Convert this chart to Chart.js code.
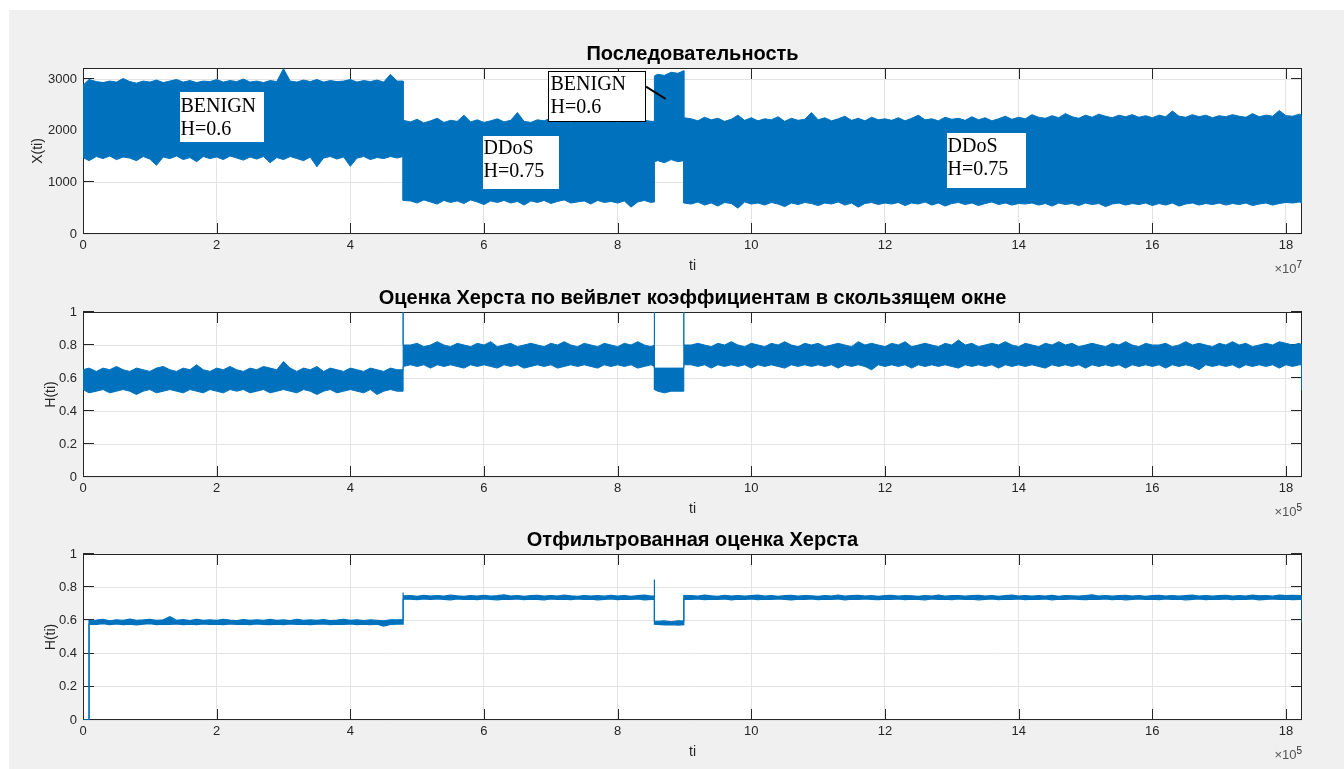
<!DOCTYPE html>
<html>
<head>
<meta charset="utf-8">
<script src="https://cdn.jsdelivr.net/npm/chart.js@4.4.1/dist/chart.umd.min.js"></script>
<style>
  html, body { margin: 0; padding: 0; background: #ffffff; }
  body { width: 1344px; height: 769px; position: relative; overflow: hidden; }
  #fig { position: absolute; left: 9px; top: 10px; right: 0; bottom: 0; background: #f0f0f0; }
  canvas { position: absolute; left: 0; }
</style>
</head>
<body>
<div id="fig"></div>
<canvas id="c1" width="1344" height="280" style="top:0px"></canvas>
<canvas id="c2" width="1344" height="245" style="top:280px"></canvas>
<canvas id="c3" width="1344" height="244" style="top:525px"></canvas>
<script>
// ---------------- DATA ----------------
// positions along ti, in axis units (×10^7 for the sequence, ×10^5 for the Hurst plots)
const tiGrid = [
  0, 0.09, 0.09, 0.2, 0.3, 0.4, 0.5, 0.6, 0.7, 0.8,
  0.9, 1.0, 1.1, 1.2, 1.3, 1.4, 1.5, 1.6, 1.7, 1.8,
  1.9, 2.0, 2.1, 2.2, 2.3, 2.4, 2.5, 2.6, 2.7, 2.8,
  2.9, 3.0, 3.1, 3.2, 3.3, 3.4, 3.5, 3.6, 3.7, 3.8,
  3.9, 4.0, 4.1, 4.2, 4.3, 4.4, 4.5, 4.6, 4.7,
  4.79, 4.79, 4.79,
  4.9, 5.0, 5.1, 5.2, 5.3, 5.4, 5.5, 5.6, 5.7, 5.8,
  5.9, 6.0, 6.1, 6.2, 6.3, 6.4, 6.5, 6.6, 6.7, 6.8,
  6.9, 7.0, 7.1, 7.2, 7.3, 7.4, 7.5, 7.6, 7.7, 7.8,
  7.9, 8.0, 8.1, 8.2, 8.3, 8.4, 8.5,
  8.55, 8.55, 8.55,
  8.6, 8.7, 8.8, 8.9,
  8.99, 8.99, 8.99,
  9.1, 9.2, 9.3, 9.4, 9.5, 9.6, 9.7, 9.8, 9.9, 10.0,
  10.1, 10.2, 10.3, 10.4, 10.5, 10.6, 10.7, 10.8, 10.9, 11.0,
  11.1, 11.2, 11.3, 11.4, 11.5, 11.6, 11.7, 11.8, 11.9, 12.0,
  12.1, 12.2, 12.3, 12.4, 12.5, 12.6, 12.7, 12.8, 12.9, 13.0,
  13.1, 13.2, 13.3, 13.4, 13.5, 13.6, 13.7, 13.8, 13.9, 14.0,
  14.1, 14.2, 14.3, 14.4, 14.5, 14.6, 14.7, 14.8, 14.9, 15.0,
  15.1, 15.2, 15.3, 15.4, 15.5, 15.6, 15.7, 15.8, 15.9, 16.0,
  16.1, 16.2, 16.3, 16.4, 16.5, 16.6, 16.7, 16.8, 16.9, 17.0,
  17.1, 17.2, 17.3, 17.4, 17.5, 17.6, 17.7, 17.8, 17.9, 18.0,
  18.1, 18.2,
  18.24, 18.24
];

// Sequence X(ti): upper and lower edge of the noise band
const seqHigh = [
  2880, 2990, 2990, 2950, 2930, 2960, 2940, 3010, 2950, 2920,
  2960, 2940, 2980, 2930, 2960, 2990, 2940, 2970, 2930, 2960,
  2950, 2990, 2940, 2970, 2950, 3000, 2940, 2960, 2930, 2970,
  2950, 3200, 2960, 2940, 2980, 2950, 2990, 2940, 2970, 2950,
  2960, 2990, 2940, 2970, 2950, 2980, 2940, 3090, 2960,
  2960, 2200, 2200,
  2170, 2220, 2150, 2190, 2240, 2160, 2200, 2180, 2300, 2170,
  2210, 2160, 2190, 2230, 2170, 2200, 2350, 2180, 2160, 2210,
  2190, 2240, 2170, 2200, 2160, 2220, 2180, 2190, 2250, 2170,
  2200, 2160, 2190, 2220, 2170, 2200, 2180,
  2180, 3060, 3060,
  3090, 3070, 3130, 3110,
  3160, 2250, 2250,
  2230, 2190, 2260, 2210, 2240, 2180, 2220, 2300, 2200, 2250,
  2190, 2230, 2210, 2270, 2180, 2240, 2200, 2220, 2350, 2210,
  2250, 2190, 2230, 2280, 2200, 2240, 2190, 2260, 2210, 2230,
  2200, 2250, 2190, 2240, 2300, 2210, 2230, 2190, 2260, 2220,
  2240, 2200, 2270, 2210, 2250, 2190, 2230, 2280, 2220, 2260,
  2230, 2310, 2260, 2240, 2290, 2250, 2330, 2270, 2240, 2300,
  2260, 2320, 2280, 2250, 2300, 2270, 2310, 2260, 2290, 2250,
  2300, 2270, 2380, 2280, 2260, 2310, 2270, 2300, 2250, 2290,
  2270, 2310, 2280, 2260, 2330, 2270, 2300, 2280, 2390, 2290,
  2280, 2320,
  2300, 2300
];
const seqLow = [
  1480, 1420, 1420, 1500, 1460, 1510, 1440, 1490, 1470, 1420,
  1500, 1450, 1330, 1490, 1460, 1510, 1440, 1480, 1400, 1500,
  1460, 1490, 1440, 1510, 1470, 1430, 1490, 1450, 1500, 1380,
  1480, 1440, 1500, 1460, 1420, 1490, 1300, 1470, 1500, 1450,
  1490, 1310, 1470, 1500, 1440, 1480, 1460, 1500, 1470,
  1500, 650, 650,
  640, 600, 660, 620, 580, 650, 610, 640, 590, 660,
  620, 570, 640, 610, 650, 600, 630, 560, 640, 610,
  650, 590, 630, 660, 600, 620, 640, 580, 650, 610,
  630, 600, 640, 520, 620, 650, 610,
  620, 1400, 1400,
  1420, 1380, 1440, 1400,
  1420, 600, 600,
  580, 620, 560, 600, 540, 610, 590, 500, 620, 580,
  600, 560, 610, 580, 530, 600, 570, 610, 590, 550,
  600, 580, 620, 560, 600, 520, 590, 610, 570, 600,
  580, 610, 550, 600, 580, 620, 560, 600, 540, 590,
  610, 570, 600, 550, 590, 620, 570, 600, 560, 590,
  580, 600, 560, 590, 540, 600, 570, 590, 550, 600,
  570, 590, 530, 580, 600, 560, 590, 570, 600, 550,
  590, 560, 600, 540, 580, 600, 560, 590, 570, 600,
  560, 590, 570, 600, 550, 580, 600, 560, 590, 610,
  600, 620,
  600, 600
];

// Hurst estimate from wavelet coefficients (sliding window)
const waveHigh = [
  0.65, 0.66, 0.66, 0.64, 0.66, 0.65, 0.67, 0.65, 0.64, 0.66,
  0.65, 0.64, 0.66, 0.67, 0.65, 0.64, 0.66, 0.65, 0.68, 0.65,
  0.64, 0.66, 0.65, 0.67, 0.65, 0.64, 0.66, 0.65, 0.67, 0.66,
  0.65, 0.70, 0.66, 0.64, 0.66, 0.65, 0.67, 0.64, 0.66, 0.65,
  0.64, 0.66, 0.65, 0.64, 0.66, 0.65, 0.64, 0.66, 0.65,
  0.65, 1.00, 0.80,
  0.80, 0.81, 0.79, 0.80, 0.82, 0.80, 0.79, 0.81, 0.80, 0.79,
  0.81, 0.80, 0.82, 0.79, 0.80, 0.81, 0.79, 0.80, 0.81, 0.80,
  0.79, 0.81, 0.80, 0.82, 0.80, 0.79, 0.81, 0.80, 0.79, 0.81,
  0.80, 0.79, 0.81, 0.80, 0.82, 0.80, 0.79,
  0.80, 1.00, 0.66,
  0.66, 0.66, 0.66, 0.66,
  0.66, 1.00, 0.80,
  0.80, 0.81, 0.80, 0.79, 0.81, 0.80, 0.82, 0.80, 0.79, 0.81,
  0.80, 0.79, 0.81, 0.80, 0.82, 0.80, 0.79, 0.81, 0.80, 0.81,
  0.79, 0.80, 0.81, 0.80, 0.79, 0.82, 0.80, 0.81, 0.80, 0.79,
  0.81, 0.80, 0.82, 0.79, 0.80, 0.81, 0.80, 0.79, 0.81, 0.80,
  0.83, 0.80, 0.81, 0.79, 0.80, 0.81, 0.80, 0.82, 0.80, 0.79,
  0.81, 0.80, 0.79, 0.81, 0.80, 0.82, 0.80, 0.81, 0.79, 0.80,
  0.81, 0.80, 0.79, 0.81, 0.80, 0.82, 0.80, 0.79, 0.81, 0.80,
  0.80, 0.81, 0.79, 0.80, 0.82, 0.80, 0.81, 0.80, 0.79, 0.81,
  0.80, 0.82, 0.80, 0.81, 0.79, 0.80, 0.81, 0.80, 0.82, 0.81,
  0.80, 0.81,
  0.80, 0.80
];
const waveLow = [
  0.53, 0.51, 0.51, 0.52, 0.53, 0.51, 0.52, 0.53, 0.52, 0.50,
  0.52, 0.53, 0.51, 0.52, 0.53, 0.52, 0.51, 0.53, 0.52, 0.51,
  0.53, 0.52, 0.51, 0.53, 0.52, 0.53, 0.51, 0.52, 0.53, 0.51,
  0.52, 0.53, 0.52, 0.51, 0.53, 0.52, 0.50, 0.52, 0.53, 0.51,
  0.52, 0.53, 0.52, 0.51, 0.53, 0.50, 0.52, 0.53, 0.52,
  0.52, 0.52, 0.67,
  0.68, 0.67, 0.68, 0.66, 0.68, 0.67, 0.68, 0.67, 0.66, 0.68,
  0.67, 0.68, 0.67, 0.66, 0.68, 0.67, 0.68, 0.66, 0.67, 0.68,
  0.67, 0.68, 0.66, 0.67, 0.68, 0.67, 0.68, 0.67, 0.66, 0.68,
  0.67, 0.68, 0.67, 0.68, 0.66, 0.67, 0.68,
  0.67, 0.53, 0.53,
  0.52, 0.51, 0.52, 0.52,
  0.52, 0.52, 0.68,
  0.68, 0.67, 0.68, 0.66, 0.68, 0.67, 0.68, 0.67, 0.68, 0.66,
  0.68, 0.67, 0.68, 0.67, 0.66, 0.68, 0.67, 0.68, 0.67, 0.68,
  0.67, 0.68, 0.66, 0.68, 0.67, 0.68, 0.67, 0.65, 0.68, 0.67,
  0.68, 0.67, 0.68, 0.66, 0.68, 0.67, 0.68, 0.67, 0.68, 0.67,
  0.66, 0.68, 0.67, 0.68, 0.67, 0.68, 0.66, 0.68, 0.67, 0.68,
  0.67, 0.68, 0.67, 0.66, 0.68, 0.67, 0.68, 0.67, 0.68, 0.66,
  0.68, 0.67, 0.68, 0.67, 0.68, 0.66, 0.68, 0.67, 0.68, 0.67,
  0.68, 0.66, 0.68, 0.67, 0.68, 0.67, 0.65, 0.68, 0.67, 0.68,
  0.67, 0.68, 0.66, 0.68, 0.67, 0.68, 0.67, 0.68, 0.66, 0.68,
  0.67, 0.68,
  0.68, 0.525
];

// Filtered Hurst estimate
const filtHigh = [
  0, 0, 0.600, 0.602, 0.606, 0.598, 0.604, 0.600, 0.608, 0.601,
  0.603, 0.606, 0.600, 0.604, 0.622, 0.601, 0.605, 0.599, 0.607, 0.601,
  0.603, 0.600, 0.607, 0.602, 0.599, 0.605, 0.600, 0.604, 0.601, 0.606,
  0.600, 0.604, 0.599, 0.607, 0.601, 0.603, 0.600, 0.605, 0.599, 0.602,
  0.606, 0.600, 0.604, 0.599, 0.603, 0.600, 0.597, 0.604, 0.603,
  0.605, 0.768, 0.748,
  0.749, 0.745, 0.751, 0.747, 0.750, 0.746, 0.752, 0.748, 0.745, 0.750,
  0.747, 0.751, 0.746, 0.749, 0.754, 0.747, 0.750, 0.745, 0.749, 0.751,
  0.746, 0.750, 0.747, 0.752, 0.748, 0.745, 0.750, 0.747, 0.749, 0.746,
  0.751, 0.747, 0.750, 0.745, 0.749, 0.752, 0.747,
  0.748, 0.846, 0.595,
  0.594, 0.597, 0.592, 0.598,
  0.596, 0.750, 0.750,
  0.750, 0.746, 0.752, 0.748, 0.745, 0.751, 0.747, 0.750, 0.746, 0.749,
  0.752, 0.747, 0.750, 0.745, 0.749, 0.751, 0.746, 0.750, 0.748, 0.745,
  0.750, 0.747, 0.753, 0.746, 0.749, 0.751, 0.747, 0.750, 0.745, 0.749,
  0.751, 0.746, 0.750, 0.748, 0.745, 0.750, 0.747, 0.752, 0.746, 0.749,
  0.750, 0.746, 0.749, 0.751, 0.747, 0.750, 0.745, 0.749, 0.752, 0.747,
  0.750, 0.746, 0.749, 0.747, 0.751, 0.745, 0.750, 0.748, 0.746, 0.750,
  0.754, 0.747, 0.750, 0.746, 0.749, 0.751, 0.747, 0.750, 0.745, 0.749,
  0.751, 0.747, 0.750, 0.746, 0.749, 0.752, 0.747, 0.750, 0.746, 0.749,
  0.751, 0.746, 0.750, 0.747, 0.753, 0.748, 0.750, 0.746, 0.752, 0.749,
  0.751, 0.749,
  0.749, 0.749
];
const filtLow = [
  0, 0, 0.578, 0.576, 0.580, 0.574, 0.579, 0.575, 0.578, 0.573,
  0.577, 0.580, 0.575, 0.578, 0.576, 0.579, 0.574, 0.578, 0.575, 0.579,
  0.576, 0.578, 0.574, 0.579, 0.576, 0.578, 0.575, 0.579, 0.576, 0.574,
  0.578, 0.575, 0.579, 0.576, 0.578, 0.574, 0.577, 0.579, 0.575, 0.578,
  0.576, 0.579, 0.575, 0.577, 0.574, 0.578, 0.566, 0.576, 0.578,
  0.578, 0.578, 0.728,
  0.728, 0.725, 0.729, 0.726, 0.730, 0.727, 0.724, 0.729, 0.726, 0.728,
  0.725, 0.729, 0.727, 0.724, 0.728, 0.726, 0.729, 0.725, 0.728, 0.727,
  0.724, 0.729, 0.726, 0.728, 0.725, 0.729, 0.726, 0.728, 0.724, 0.727,
  0.729, 0.725, 0.728, 0.726, 0.729, 0.724, 0.727,
  0.727, 0.577, 0.577,
  0.576, 0.573, 0.575, 0.572,
  0.574, 0.574, 0.728,
  0.727, 0.729, 0.725, 0.728, 0.726, 0.729, 0.724, 0.728, 0.726, 0.729,
  0.725, 0.728, 0.726, 0.729, 0.727, 0.724, 0.728, 0.726, 0.729, 0.725,
  0.728, 0.726, 0.729, 0.724, 0.728, 0.726, 0.729, 0.727, 0.725, 0.728,
  0.726, 0.729, 0.725, 0.728, 0.727, 0.724, 0.729, 0.726, 0.728, 0.725,
  0.729, 0.726, 0.728, 0.724, 0.727, 0.729, 0.725, 0.728, 0.726, 0.729,
  0.725, 0.728, 0.726, 0.729, 0.724, 0.728, 0.726, 0.729, 0.727, 0.725,
  0.728, 0.726, 0.729, 0.725, 0.728, 0.724, 0.727, 0.729, 0.726, 0.728,
  0.725, 0.729, 0.726, 0.728, 0.724, 0.727, 0.729, 0.725, 0.728, 0.726,
  0.729, 0.725, 0.728, 0.726, 0.729, 0.724, 0.727, 0.729, 0.726, 0.728,
  0.725, 0.727,
  0.727, 0.585
];

const seqYTicks = [0, 1000, 2000, 3000];
const hurstYTicks = [0, 0.2, 0.4, 0.6, 0.8, 1];
const tiTickLabels = ['0', '2', '4', '6', '8', '10', '12', '14', '16', '18'];

// ---------------- RENDERING ----------------
const BLUE = '#0072BD';
const AXC = '#262626';
const SANS = '"Liberation Sans", Arial, Helvetica, sans-serif';
const SERIF = '"Liberation Serif", "Times New Roman", serif';

function points(ys, scale) { return tiGrid.map((t, i) => ({ x: t * scale, y: ys[i] })); }

const matlabAxes = {
  id: 'matlabAxes',
  beforeDraw(chart) {
    const { ctx, chartArea: a } = chart;
    ctx.save();
    ctx.fillStyle = '#ffffff';
    ctx.fillRect(a.left, a.top, a.right - a.left, a.bottom - a.top);
    ctx.restore();
  },
  beforeDatasetsDraw(chart) {
    const { ctx, chartArea: a } = chart;
    const xs = chart.scales.x, ys = chart.scales.y;
    const L = 11;
    ctx.save();
    ctx.strokeStyle = AXC;
    ctx.lineWidth = 1;
    ctx.beginPath();
    xs.ticks.forEach(t => {
      const p = Math.round(xs.getPixelForValue(t.value)) + 0.5;
      ctx.moveTo(p, a.bottom); ctx.lineTo(p, a.bottom - L);
      ctx.moveTo(p, a.top); ctx.lineTo(p, a.top + L);
    });
    ys.ticks.forEach(t => {
      const p = Math.round(ys.getPixelForValue(t.value)) - 0.5;
      ctx.moveTo(a.left, p); ctx.lineTo(a.left + L, p);
      ctx.moveTo(a.right, p); ctx.lineTo(a.right - L, p);
    });
    ctx.stroke();
    ctx.strokeRect(a.left + 0.5, a.top + 0.5, a.right - a.left - 1, a.bottom - a.top - 1);
    ctx.restore();
  },
  afterDatasetsDraw(chart, args, o) {
    const { ctx, chartArea: a } = chart;
    const cx = (a.left + a.right) / 2;
    ctx.save();
    // title
    ctx.fillStyle = '#000000';
    ctx.font = 'bold 20px ' + SANS;
    ctx.textAlign = 'center';
    ctx.textBaseline = 'alphabetic';
    ctx.fillText(o.title, cx, a.top - 8.3);
    // x label
    ctx.fillStyle = AXC;
    ctx.font = '14px ' + SANS;
    ctx.fillText('ti', cx, a.bottom + 36);
    // y label
    ctx.save();
    ctx.translate(o.yLabelX, (a.top + a.bottom) / 2);
    ctx.rotate(-Math.PI / 2);
    ctx.textBaseline = 'middle';
    ctx.fillText(o.yLabel, 0, 0);
    ctx.restore();
    // exponent
    ctx.font = '10px ' + SANS;
    const we = ctx.measureText(o.exponent).width;
    ctx.textAlign = 'left';
    ctx.fillText(o.exponent, a.right - we, a.bottom + 33.5);
    ctx.font = '13px ' + SANS;
    ctx.textAlign = 'right';
    ctx.fillStyle = '#555555';
    ctx.fillText('\u00d710', a.right - we, a.bottom + 39);
    // annotations
    (o.notes || []).forEach(n => {
      ctx.fillStyle = '#ffffff';
      ctx.fillRect(n.x, n.y, n.w, n.h);
      if (n.border) {
        ctx.strokeStyle = '#000000';
        ctx.lineWidth = 1;
        ctx.strokeRect(n.x + 0.5, n.y + 0.5, n.w - 1, n.h - 1);
      }
      ctx.fillStyle = '#000000';
      ctx.font = '20px ' + SERIF;
      ctx.textAlign = 'left';
      ctx.textBaseline = 'alphabetic';
      n.lines.forEach((s, i) => ctx.fillText(s, n.tx, n.base[i]));
    });
    (o.arrows || []).forEach(r => {
      ctx.strokeStyle = '#000000';
      ctx.lineWidth = 2;
      ctx.beginPath();
      ctx.moveTo(r[0], r[1]);
      ctx.lineTo(r[2], r[3]);
      ctx.stroke();
    });
    ctx.restore();
  }
};

function makeChart(id, cfg) {
  const fmt = v => String(Number(v.toFixed(2)));
  return new Chart(document.getElementById(id), {
    type: 'line',
    data: {
      datasets: [
        { data: points(cfg.high, cfg.xScale), borderColor: BLUE, backgroundColor: BLUE,
          borderWidth: cfg.lw, pointRadius: 0, tension: 0, fill: '+1' },
        { data: points(cfg.low, cfg.xScale), borderColor: BLUE, backgroundColor: BLUE,
          borderWidth: cfg.lw, pointRadius: 0, tension: 0, fill: false }
      ]
    },
    options: {
      responsive: false,
      animation: false,
      devicePixelRatio: 1,
      events: [],
      layout: { padding: cfg.padding },
      plugins: {
        legend: { display: false },
        tooltip: { enabled: false },
        matlabAxes: cfg.deco
      },
      scales: {
        x: {
          type: 'linear', min: 0, max: 18.24 * cfg.xScale,
          afterBuildTicks: s => { s.ticks = tiTickLabels.map(l => ({ value: Number(l) * cfg.xScale })); },
          ticks: { callback: (v, i) => tiTickLabels[i], color: AXC, font: { size: 13, family: SANS },
                   padding: 4, maxRotation: 0, autoSkip: false },
          grid: { color: '#e3e3e3', drawTicks: false, lineWidth: 1 },
          border: { display: false },
          afterFit: s => { s.height = 30; }
        },
        y: {
          type: 'linear', min: 0, max: cfg.yMax,
          afterBuildTicks: s => { s.ticks = cfg.yTicks.map(v => ({ value: v })); },
          ticks: { callback: v => fmt(v), color: AXC, font: { size: 13, family: SANS }, padding: 6 },
          grid: { color: '#e3e3e3', drawTicks: false, lineWidth: 1 },
          border: { display: false },
          afterFit: s => { s.width = 83; }
        }
      }
    },
    plugins: [matlabAxes]
  });
}

makeChart('c1', {
  high: seqHigh, low: seqLow, xScale: 1e7, yMax: 3213, yTicks: seqYTicks, lw: 1,
  padding: { left: 0, right: 42, top: 68, bottom: 16 },
  deco: {
    title: 'Последовательность', yLabel: 'X(ti)', yLabelX: 38, exponent: '7',
    notes: [
      { x: 180, y: 92, w: 84, h: 50, tx: 180.5, lines: ['BENIGN', 'H=0.6'], base: [111.7, 135] },
      { x: 483, y: 136, w: 76, h: 53, tx: 483.5, lines: ['DDoS', 'H=0.75'], base: [154, 177.3] },
      { x: 548, y: 71, w: 98, h: 51, tx: 550.5, border: true, lines: ['BENIGN', 'H=0.6'], base: [90, 112.7] },
      { x: 947, y: 133, w: 79, h: 55, tx: 947.5, lines: ['DDoS', 'H=0.75'], base: [151.7, 175] }
    ],
    arrows: [[646, 86.7, 665.7, 99]]
  }
});

makeChart('c2', {
  high: waveHigh, low: waveLow, xScale: 1e5, yMax: 1, yTicks: hurstYTicks, lw: 1,
  padding: { left: 0, right: 42, top: 32, bottom: 18 },
  deco: { title: 'Оценка Херста по вейвлет коэффициентам в скользящем окне', yLabel: 'H(ti)', yLabelX: 51, exponent: '5' }
});

makeChart('c3', {
  high: filtHigh, low: filtLow, xScale: 1e5, yMax: 1, yTicks: hurstYTicks, lw: 1.2,
  padding: { left: 0, right: 42, top: 29, bottom: 19 },
  deco: { title: 'Отфильтрованная оценка Херста', yLabel: 'H(ti)', yLabelX: 51, exponent: '5' }
});
</script>
</body>
</html>
